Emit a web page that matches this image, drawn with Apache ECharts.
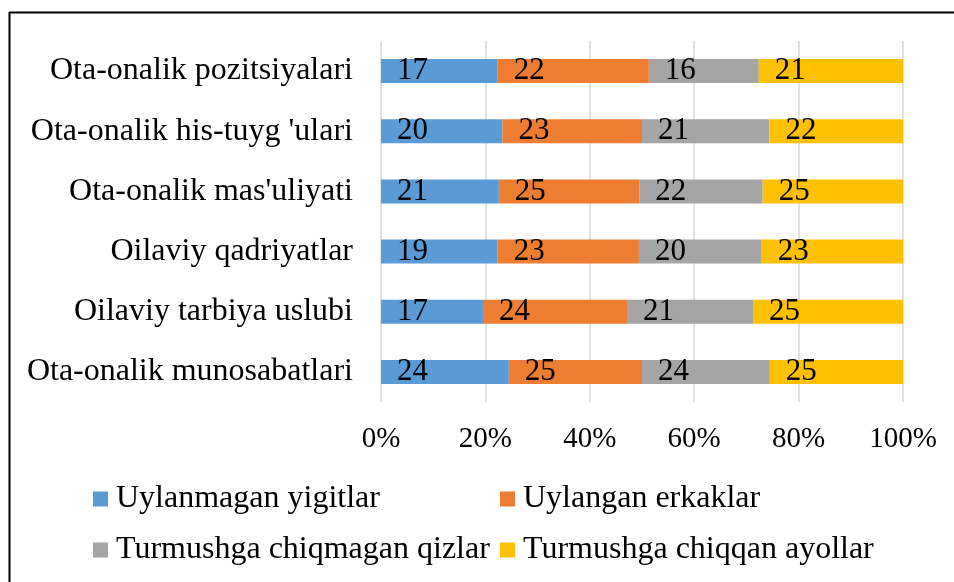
<!DOCTYPE html>
<html>
<head>
<meta charset="utf-8">
<script src="https://cdn.jsdelivr.net/npm/echarts@6/dist/echarts.min.js"></script>
<style>
  html, body { margin: 0; padding: 0; background: #fff; }
  #main { width: 954px; height: 582px; }
</style>
</head>
<body>
<div id="main"></div>
<script>
// kategoriyalar (pastdan yuqoriga, ECharts category y o'qi pastdan boshlanadi)
var categories = [
    'Ota-onalik munosabatlari',
    'Oilaviy tarbiya uslubi',
    'Oilaviy qadriyatlar',
    "Ota-onalik mas'uliyati",
    "Ota-onalik his-tuyg 'ulari",
    'Ota-onalik pozitsiyalari'
];
var seriesNames = ['Uylanmagan yigitlar', 'Uylangan erkaklar', 'Turmushga chiqmagan qizlar', 'Turmushga chiqqan ayollar'];
var uylanmaganYigitlar = [24, 17, 19, 21, 20, 17];
var uylanganErkaklar = [25, 24, 23, 25, 23, 22];
var chiqmaganQizlar = [24, 21, 20, 22, 21, 16];
var chiqqanAyollar = [25, 25, 23, 25, 22, 21];
var axisTicks = ['0%', '20%', '40%', '60%', '80%', '100%'];
var colors = ['#5b9bd5', '#ed7d31', '#a5a5a5', '#ffc000'];

var raw = [uylanmaganYigitlar, uylanganErkaklar, chiqmaganQizlar, chiqqanAyollar];
var totals = categories.map(function (c, i) {
    return raw.reduce(function (s, arr) { return s + arr[i]; }, 0);
});

var font = '"Liberation Serif", "Times New Roman", serif';

var series = raw.map(function (arr, k) {
    return {
        name: seriesNames[k],
        type: 'bar',
        stack: 'total',
        barWidth: 24,
        itemStyle: {color: colors[k]},
        label: {
            show: true,
            position: 'insideLeft',
            distance: 16,
            color: '#000',
            fontFamily: font,
            fontSize: 31,
            formatter: function (p) { return arr[p.dataIndex]; }
        },
        data: arr.map(function (v, i) { return v / totals[i] * 100; })
    };
});

function legendAt(name, left, top) {
    return {
        data: [name],
        left: left,
        top: top,
        itemWidth: 15,
        itemHeight: 15,
        itemGap: 0,
        icon: 'rect',
        textStyle: {fontFamily: font, fontSize: 32, color: '#000', padding: [0, 0, 0, 3]},
        padding: 0
    };
}

var myChart = echarts.init(document.getElementById('main'));
var option = {
    animation: false,
    grid: {left: 381, right: 51, top: 41, bottom: 180, containLabel: false},
    xAxis: {
        type: 'value',
        min: 0,
        max: 100,
        interval: 20,
        axisLine: {show: false},
        axisTick: {show: false},
        splitLine: {lineStyle: {color: '#d9d9d9', width: 1.5}},
        axisLabel: {
            fontFamily: font,
            fontSize: 29,
            color: '#000',
            margin: 23,
            formatter: function (v) { return axisTicks[v / 20]; }
        }
    },
    yAxis: {
        type: 'category',
        data: categories,
        axisLine: {show: false},
        axisTick: {show: false},
        axisLabel: {fontFamily: font, fontSize: 32, color: '#000', margin: 28}
    },
    legend: [
        legendAt(seriesNames[0], 93, 483),
        legendAt(seriesNames[1], 500, 483),
        legendAt(seriesNames[2], 93, 534),
        legendAt(seriesNames[3], 500, 534)
    ],
    graphic: [
        {type: 'line', shape: {x1: 9.5, y1: 12, x2: 9.5, y2: 582}, style: {stroke: '#000', lineWidth: 2}},
        {type: 'line', shape: {x1: 9, y1: 12.5, x2: 954, y2: 12.5}, style: {stroke: '#000', lineWidth: 2}}
    ],
    series: series
};
myChart.setOption(option);
</script>
</body>
</html>
